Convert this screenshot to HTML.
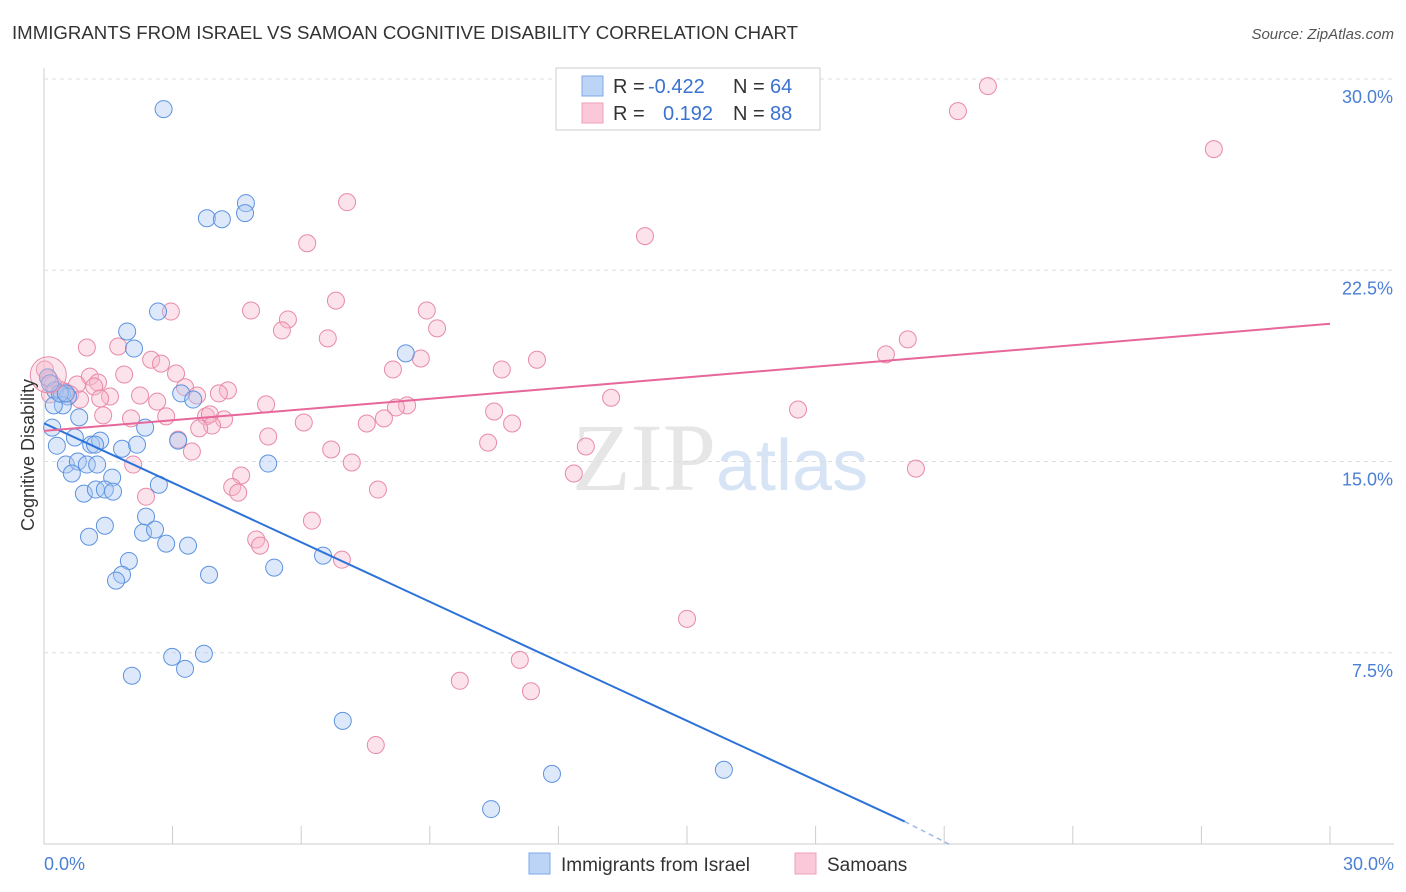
<!DOCTYPE html>
<html><head><meta charset="utf-8">
<style>
body{margin:0;background:#fff;font-family:"Liberation Sans",sans-serif;}
svg{display:block}
</style></head>
<body>
<svg id="chart" width="1406" height="892" xmlns="http://www.w3.org/2000/svg">
<text x="12" y="39" font-size="18" fill="#333" textLength="786" lengthAdjust="spacingAndGlyphs">IMMIGRANTS FROM ISRAEL VS SAMOAN COGNITIVE DISABILITY CORRELATION CHART</text>
<text x="1394" y="39" font-size="15" fill="#555" font-style="italic" text-anchor="end">Source: ZipAtlas.com</text>
<text x="716" y="490" font-size="96" fill="#e6e6e6" text-anchor="end" font-family="Liberation Serif">ZIP</text>
<text x="716" y="490" font-size="72" fill="#d6e4f5">atlas</text>
<g id="grid"></g>
<g id="marks"></g>
<text x="34" y="455" font-size="18" fill="#333" text-anchor="middle" transform="rotate(-90 34 455)">Cognitive Disability</text>
<text x="44" y="870" font-size="18" fill="#4a7fd4">0.0%</text>
<text x="1394" y="870" font-size="18" fill="#4a7fd4" text-anchor="end">30.0%</text>
<g>
<rect x="556" y="68" width="264" height="62" fill="#fff" stroke="#ccc"/>
<rect x="582" y="76" width="21" height="20" fill="#bcd4f5" stroke="#7fa8e8"/>
<rect x="582" y="103" width="21" height="20" fill="#fac8d8" stroke="#eda0ba"/>
<text x="613" y="93" font-size="20" fill="#333">R =</text>
<text x="648" y="93" font-size="20" fill="#3a72d0">-0.422</text>
<text x="733" y="93" font-size="20" fill="#333">N =</text>
<text x="770" y="93" font-size="20" fill="#3a72d0">64</text>
<text x="613" y="120" font-size="20" fill="#333">R =</text>
<text x="663" y="120" font-size="20" fill="#3a72d0">0.192</text>
<text x="733" y="120" font-size="20" fill="#333">N =</text>
<text x="770" y="120" font-size="20" fill="#3a72d0">88</text>
</g>
<g>
<rect x="529" y="853" width="21" height="21" fill="#bcd4f5" stroke="#7fa8e8"/>
<text x="561" y="871" font-size="19" fill="#333">Immigrants from Israel</text>
<rect x="795" y="853" width="21" height="21" fill="#fac8d8" stroke="#eda0ba"/>
<text x="827" y="871" font-size="19" fill="#333">Samoans</text>
</g>
</svg>
<script>
const yTicks=[7.5,15,22.5,30];
const blueX=[2.79,3.8,4.15,4.71,4.69,2.66,1.94,2.1,8.44,0.09,0.26,0.42,0.56,0.44,0.23,0.82,0.19,2.36,0.72,0.3,1.1,1.31,1.19,1.82,2.17,3.13,3.2,3.48,0.51,0.79,1.0,1.24,0.65,1.59,2.68,0.93,1.21,1.42,1.61,5.23,1.42,1.05,2.38,2.31,2.59,2.85,3.36,1.98,6.51,1.82,1.68,3.85,5.37,2.99,3.73,3.29,2.05,6.97,11.85,15.86,10.43,0.37,0.14,0.51];
const blueY=[28.82,24.54,24.5,25.13,24.74,20.88,20.1,19.43,19.24,18.3,17.79,17.63,17.55,17.2,17.2,16.73,16.33,16.33,15.94,15.62,15.66,15.82,15.66,15.5,15.66,15.82,17.67,17.43,14.88,15.0,14.88,14.88,14.53,14.37,14.09,13.74,13.9,13.9,13.82,14.92,12.48,12.05,12.84,12.21,12.33,11.78,11.7,11.1,11.31,10.56,10.33,10.56,10.84,7.34,7.46,6.87,6.6,4.83,2.75,2.91,1.37,17.67,18.07,17.67];
const pinkX=[22.02,21.32,27.29,7.07,6.14,14.02,2.96,4.83,6.81,5.69,5.55,8.93,9.17,6.62,1.0,1.73,2.5,2.73,11.5,19.64,20.15,8.79,8.14,10.68,1.07,1.87,3.08,0.12,0.77,1.26,1.17,3.29,4.29,4.08,0.47,1.54,2.24,3.57,2.64,13.23,8.47,8.21,5.18,10.5,17.59,2.85,3.78,3.87,4.2,1.38,2.03,3.92,3.62,10.92,6.06,7.93,7.53,5.23,3.13,10.36,6.7,3.45,12.64,2.08,7.18,12.36,20.34,4.6,2.38,4.39,4.53,7.79,6.25,4.95,5.04,6.95,15.0,11.1,9.7,11.36,7.74,0.02,0.37,0.21,0.14,0.61,0.84,1.31];
const pinkY=[29.72,28.74,27.25,25.17,23.56,23.84,20.88,20.92,21.31,20.57,20.14,20.92,20.22,19.83,19.47,19.51,18.99,18.84,18.99,19.2,19.79,19.04,18.61,18.61,18.33,18.41,18.45,18.22,18.02,18.1,17.94,17.91,17.79,17.67,17.75,17.55,17.59,17.59,17.35,17.5,17.2,17.12,17.24,16.96,17.04,16.77,16.77,16.85,16.65,16.81,16.69,16.41,16.3,16.49,16.53,16.69,16.49,15.98,15.86,15.74,15.47,15.39,15.59,14.88,14.96,14.53,14.72,14.45,13.62,14.0,13.78,13.9,12.68,11.94,11.7,11.15,8.83,7.22,6.4,5.99,3.88,18.61,17.82,18.02,17.63,17.63,17.43,17.47];
const blueLine=[[0,16.5],[20.08,0.88]];const blueDash=[[20.08,0.88],[21.2,-0.08]];
const pinkLine=[[0,16.2],[30,20.4]];
const X0=44,X1=1330,Y0=844,Y1=79;
const xs=v=>X0+v/30*(X1-X0);
const ys=v=>Y0-v/30*(Y0-Y1);
const NS='http://www.w3.org/2000/svg';
const grid=document.getElementById('grid'),marks=document.getElementById('marks');
function mk(tag,at,parent){const e=document.createElementNS(NS,tag);for(const k in at)e.setAttribute(k,at[k]);parent.appendChild(e);return e;}
let ax=mk('line',{x1:X0,y1:68,x2:X0,y2:Y0,stroke:'#ccc'},grid);


let bx=mk('line',{x1:X0,y1:Y0,x2:1394,y2:Y0,stroke:'#ccc'},grid);


for(let i=0;i<=10;i++){const x=X0+i*(X1-X0)/10;const t=mk('line',{x1:x,y1:Y0,x2:x,y2:Y0-18,stroke:'#ccc'},grid);

}
yTicks.forEach(v=>{const g=mk('line',{x1:X0,y1:ys(v),x2:1394,y2:ys(v),stroke:'#ddd','stroke-dasharray':'4 4'},grid);


const t=mk('text',{x:1393,y:ys(v)+24,'font-size':18,fill:'#4a7fd4','text-anchor':'end'},grid);t.textContent=v.toFixed(1)+'%';

});
function dots(X,Y,fill,stroke,name){X.forEach((x,i)=>{const c=mk('circle',{cx:xs(x),cy:ys(Y[i]),r:8.5,fill:fill,'fill-opacity':0.4,stroke:stroke,'stroke-width':1},marks);

});}
dots(pinkX,pinkY,'#f7b6cb','#e88aa8','samoan-point');
dots(blueX,blueY,'#a9c8f2','#5d93e0','israel-point');
let big=mk('circle',{cx:xs(0.1),cy:ys(18.4),r:18,fill:'#f7b6cb','fill-opacity':0.35,stroke:'#e88aa8'},marks);


let bl=mk('line',{x1:xs(blueLine[0][0]),y1:ys(blueLine[0][1]),x2:xs(blueLine[1][0]),y2:ys(blueLine[1][1]),stroke:'#2d72d9','stroke-width':2},marks);


let bd=mk('line',{x1:xs(blueDash[0][0]),y1:ys(blueDash[0][1]),x2:xs(blueDash[1][0]),y2:ys(blueDash[1][1]),stroke:'#9bbbe8','stroke-width':1.5,'stroke-dasharray':'5 4'},marks);


let pl=mk('line',{x1:xs(pinkLine[0][0]),y1:ys(pinkLine[0][1]),x2:xs(pinkLine[1][0]),y2:ys(pinkLine[1][1]),stroke:'#e7679a','stroke-width':2},marks);


</script>
</body></html>
